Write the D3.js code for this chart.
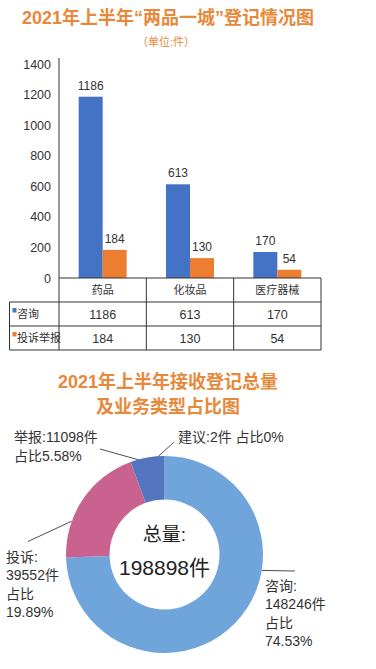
<!DOCTYPE html>
<html>
<head>
<meta charset="utf-8">
<script src="https://cdn.jsdelivr.net/npm/d3@7"></script>
<style>
  body { margin: 0; background: #fff; }
  svg { display: block; }
  .num { font-family: "Liberation Sans Narrow", "Liberation Sans", Arial, sans-serif; fill: #333; }
  .cjk { font-family: "Liberation Sans", "Noto Sans CJK SC", sans-serif; fill: #222; }
</style>
</head>
<body>
<div id="chart"></div>
<script>
// bar chart data
const categories = ["药品", "化妆品", "医疗器械"]
const seriesNames = ["咨询", "投诉举报"]
const consultVals = [1186, 613, 170]
const reportVals = [184, 130, 54]
const yTicks = [0, 200, 400, 600, 800, 1000, 1200, 1400]

// donut data
const pieNames = ["咨询", "投诉", "举报", "建议"]
const pieCounts = [148246, 39552, 11098, 2]
const piePcts = ["74.53%", "19.89%", "5.58%", "0%"]
const totalCount = 198898

const width = 376, height = 669
const orange = "#e8883a"
const barColors = ["#4472c4", "#ed7d31"]
const pieColors = ["#6fa5db", "#c9628f", "#5476c0", "#7aa9dc"]

const svg = d3.select("#chart").append("svg")
    .attr("width", width)
    .attr("height", height)

// titles
svg.append("text").attr("class", "cjk")
    .attr("x", 168).attr("y", 24)
    .attr("text-anchor", "middle")
    .style("font-size", "18px").style("font-weight", "bold")
    .style("fill", orange)
    .text("2021年上半年“两品一城”登记情况图")
svg.append("text").attr("class", "cjk")
    .attr("x", 166).attr("y", 46)
    .attr("text-anchor", "middle")
    .style("font-size", "11px")
    .style("fill", orange)
    .text("（单位:件）")

// ---- bar chart ----
const x0 = 59, x1 = 321, yBase = 278
const xScale = d3.scaleBand().domain(categories).range([x0, x1])
const bw = xScale.bandwidth()
const xSub = d3.scaleBand().domain(seriesNames).range([bw / 2 - 24, bw / 2 + 24])
const yScale = d3.scaleLinear().domain([0, 1400]).range([yBase, 64])

const yAxis = svg.append("g")
    .attr("transform", "translate(" + x0 + ",0)")
    .call(d3.axisLeft(yScale).tickValues(yTicks).tickSize(0).tickPadding(8).tickFormat(d3.format("d")))
yAxis.select(".domain").remove()
yAxis.selectAll("text").attr("class", "num").style("font-size", "12.5px").style("fill", "#333")

const rows = categories.map((c, i) => ({ cat: c, vals: [consultVals[i], reportVals[i]] }))

const groups = svg.append("g").selectAll("g")
    .data(rows).enter().append("g")
    .attr("transform", d => "translate(" + xScale(d.cat) + ",0)")

groups.selectAll("rect")
    .data(d => d.vals.map((v, j) => ({ s: seriesNames[j], v: v, j: j })))
    .enter().append("rect")
    .attr("x", d => xSub(d.s))
    .attr("y", d => yScale(d.v))
    .attr("width", xSub.bandwidth())
    .attr("height", d => yBase - yScale(d.v))
    .attr("fill", d => barColors[d.j])

groups.selectAll("text.val")
    .data(d => d.vals.map((v, j) => ({ s: seriesNames[j], v: v })))
    .enter().append("text")
    .attr("class", "num val")
    .attr("x", d => xSub(d.s) + xSub.bandwidth() / 2)
    .attr("y", d => yScale(d.v) - 7)
    .attr("text-anchor", "middle")
    .style("font-size", "12px")
    .text(d => d.v)

// ---- data table ----
const rowH = 24
const tTop = yBase, tLeft = 9.5
const lineColor = "#333"
const tbl = svg.append("g").attr("stroke", lineColor).attr("stroke-width", 1)
// y axis line continuing down as table border
tbl.append("line").attr("x1", x0).attr("x2", x0).attr("y1", 58).attr("y2", tTop + rowH * 3)
tbl.append("line").attr("x1", x0).attr("x2", x1).attr("y1", tTop).attr("y2", tTop)
tbl.append("line").attr("x1", tLeft).attr("x2", x1).attr("y1", tTop + rowH).attr("y2", tTop + rowH)
tbl.append("line").attr("x1", tLeft).attr("x2", x1).attr("y1", tTop + rowH * 2).attr("y2", tTop + rowH * 2)
tbl.append("line").attr("x1", tLeft).attr("x2", x1).attr("y1", tTop + rowH * 3).attr("y2", tTop + rowH * 3)
tbl.append("line").attr("x1", tLeft).attr("x2", tLeft).attr("y1", tTop + rowH).attr("y2", tTop + rowH * 3)
categories.forEach(c => {
    tbl.append("line").attr("x1", xScale(c) + bw).attr("x2", xScale(c) + bw)
        .attr("y1", tTop).attr("y2", tTop + rowH * 3)
})

svg.append("g").selectAll("text")
    .data(categories).enter().append("text")
    .attr("class", "cjk")
    .attr("x", d => xScale(d) + bw / 2)
    .attr("y", tTop + rowH / 2 + 4)
    .attr("text-anchor", "middle")
    .style("font-size", "11px")
    .style("fill", "#333")
    .text(d => d)

const tableRows = [consultVals, reportVals]
tableRows.forEach((vals, r) => {
    const cy = tTop + rowH * (r + 1) + rowH / 2
    svg.append("rect")
        .attr("x", 12.5).attr("y", cy - 6)
        .attr("width", 4).attr("height", 4.5)
        .attr("fill", barColors[r])
    svg.append("text").attr("class", "cjk")
        .attr("x", 17).attr("y", cy + 4)
        .style("font-size", "11px").style("fill", "#333")
        .text(seriesNames[r])
    svg.append("g").selectAll("text")
        .data(vals).enter().append("text")
        .attr("class", "num")
        .attr("x", (d, i) => xScale(categories[i]) + bw / 2)
        .attr("y", cy + 4.5)
        .attr("text-anchor", "middle")
        .style("font-size", "12.5px")
        .text(d => d)
})

// ---- second title ----
svg.append("text").attr("class", "cjk")
    .attr("x", 168).attr("y", 388)
    .attr("text-anchor", "middle")
    .style("font-size", "18px").style("font-weight", "bold")
    .style("fill", orange)
    .text("2021年上半年接收登记总量")
svg.append("text").attr("class", "cjk")
    .attr("x", 168).attr("y", 413)
    .attr("text-anchor", "middle")
    .style("font-size", "18px").style("font-weight", "bold")
    .style("fill", orange)
    .text("及业务类型占比图")

// ---- donut ----
const cx = 164.5, cy = 554.5, rOut = 98.5, rIn = 55
const pieData = pieNames.map((n, i) => ({ name: n, count: pieCounts[i], pct: piePcts[i] }))
const arcs = d3.pie().sort(null).value(d => d.count)(pieData)
const arc = d3.arc().innerRadius(rIn).outerRadius(rOut)

const donut = svg.append("g").attr("transform", "translate(" + cx + "," + cy + ")")
donut.selectAll("path")
    .data(arcs).enter().append("path")
    .attr("d", arc)
    .attr("fill", (d, i) => pieColors[i])

donut.append("text").attr("class", "cjk")
    .attr("x", 0).attr("y", -14)
    .attr("text-anchor", "middle")
    .style("font-size", "19px")
    .text("总量:")
donut.append("text").attr("class", "cjk")
    .attr("x", 0).attr("y", 20.5)
    .attr("text-anchor", "middle")
    .style("font-size", "21px")
    .text(totalCount + "件")

// label layout: text position, line end near text, where on slice the leader touches
const labelLayout = [
    { tx: 265, ty: 590.5, lx: 295, ly: 571, frac: 0.37,
      lines: d => [d.name + ":", d.count + "件", "占比", d.pct] },
    { tx: 6, ty: 561.5, lx: 28, ly: 541.5, frac: 0.30,
      lines: d => [d.name + ":", d.count + "件", "占比", d.pct] },
    { tx: 14, ty: 442, lx: 100, ly: 449, frac: 0.22,
      lines: d => [d.name + ":" + d.count + "件", "占比" + d.pct] },
    { tx: 178, ty: 442, lx: 174, ly: 442, frac: 0, off: -0.06,
      lines: d => [d.name + ":" + d.count + "件 占比" + d.pct] }
]

arcs.forEach((a, i) => {
    const L = labelLayout[i]
    const ang = a.startAngle + (a.endAngle - a.startAngle) * L.frac + (L.off || 0)
    const px = cx + rOut * Math.sin(ang), py = cy - rOut * Math.cos(ang)
    svg.append("line")
        .attr("x1", px).attr("y1", py)
        .attr("x2", L.lx).attr("y2", L.ly)
        .attr("stroke", "#222").attr("stroke-width", 0.8)
    const t = svg.append("text").attr("class", "cjk")
        .style("font-size", "14px").style("fill", "#333")
    L.lines(a.data).forEach((s, k) => {
        t.append("tspan").attr("x", L.tx).attr("y", L.ty + k * 18.6).text(s)
    })
})
</script>
</body>
</html>
